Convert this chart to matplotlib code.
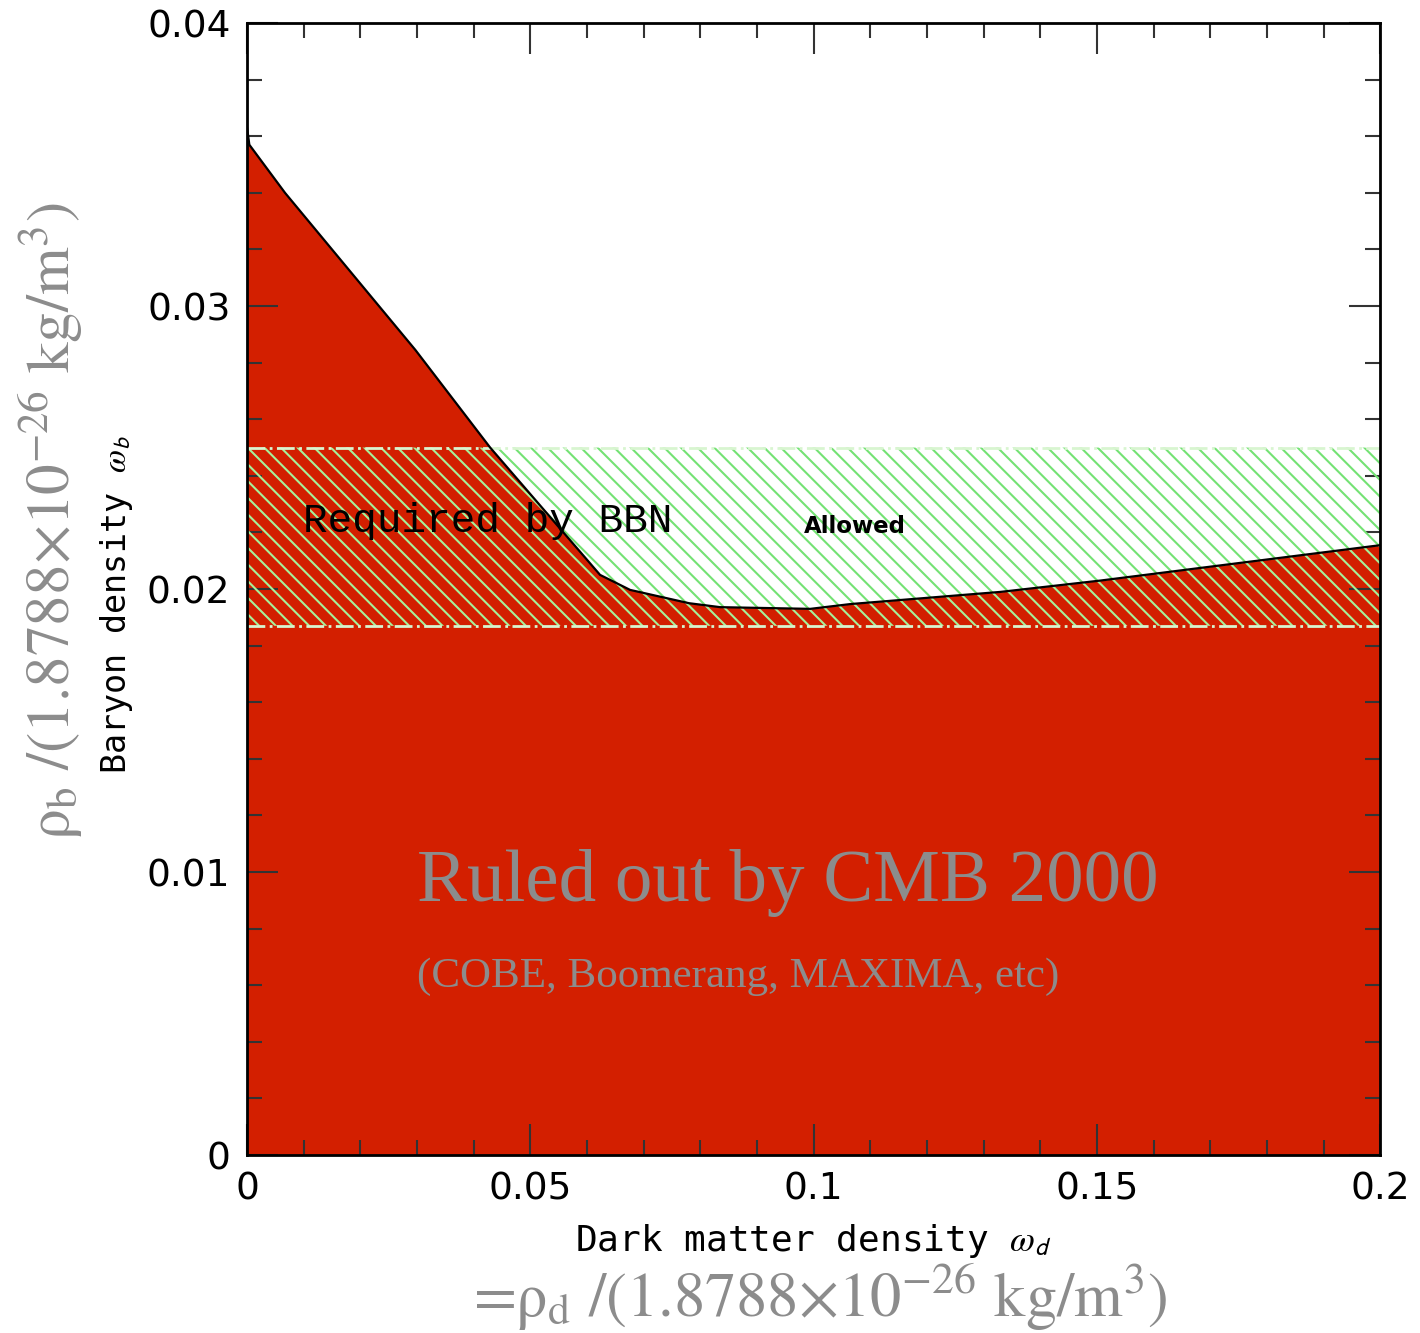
import numpy as np
import matplotlib
matplotlib.use("Agg")
import matplotlib.pyplot as plt
from matplotlib.ticker import MultipleLocator, FixedFormatter, FixedLocator

# lower edge of the allowed region
wd = [0.0, 0.0004, 0.0067, 0.0297, 0.0429, 0.0623, 0.0676, 0.078, 0.0835, 0.0994, 0.1065, 0.133, 0.1506, 0.2]
wb = [0.0363, 0.0357, 0.0340, 0.02845, 0.0250, 0.0205, 0.01997, 0.0195, 0.01936, 0.0193, 0.01947, 0.0199, 0.0203, 0.02155]

# BBN band
bbn_lo = 0.0187
bbn_hi = 0.0250

xticks = [0, 0.05, 0.1, 0.15, 0.2]
xlabels = ["0", "0.05", "0.1", "0.15", "0.2"]
yticks = [0, 0.01, 0.02, 0.03, 0.04]
ylabels = ["0", "0.01", "0.02", "0.03", "0.04"]

red = "#d31f00"
grey = "#8c8c8c"
plt.rcParams["mathtext.fontset"] = "stix"
plt.rcParams["hatch.linewidth"] = 1.5

fig = plt.figure(figsize=(14.2, 13.33), dpi=100)
ax = fig.add_axes([0.174, 0.1335, 0.798, 0.8492])

xx = np.array(wd)
yy = np.array(wb)
ax.fill_between(xx, 0, yy, color=red, lw=0, zorder=1)
ax.plot(xx, yy, color="black", lw=1.6, zorder=4)

# hatch over white part of band
top = np.minimum(yy, bbn_hi)
ax.fill_between(xx, top, bbn_hi, facecolor="none",
                edgecolor="#74e274", hatch="\\\\", lw=0, zorder=2)
# hatch over red part of band
ax.fill_between(xx, bbn_lo, top, facecolor="none",
                edgecolor="#a6f29a", hatch="\\\\", lw=0, zorder=3)
ax.axhline(bbn_hi, color="#d8f5d0", lw=2, ls="-.", zorder=3)
ax.axhline(bbn_lo, color="#d8f5d0", lw=2, ls="-.", zorder=3)

ax.set_xlim(0, 0.2)
ax.set_ylim(0, 0.04)
ax.xaxis.set_major_locator(FixedLocator(xticks))
ax.xaxis.set_major_formatter(FixedFormatter(xlabels))
ax.yaxis.set_major_locator(FixedLocator(yticks))
ax.yaxis.set_major_formatter(FixedFormatter(ylabels))
ax.xaxis.set_minor_locator(MultipleLocator(0.01))
ax.yaxis.set_minor_locator(MultipleLocator(0.002))
ax.tick_params(which="both", direction="in", top=True, right=True, color="#333333", width=1.5)
ax.tick_params(which="major", length=22, labelsize=27, pad=12)
ax.tick_params(which="minor", length=11)
for lab in ax.get_xticklabels() + ax.get_yticklabels():
    lab.set_family("DejaVu Sans")
for s in ax.spines.values():
    s.set_linewidth(2)
    s.set_zorder(5)

ax.set_xlabel(r"Dark matter density $\omega_\mathsf{d}$", family="DejaVu Sans Mono",
              fontsize=26, labelpad=10)
ax.set_ylabel(r"Baryon density $\omega_\mathsf{b}$", family="DejaVu Sans Mono",
              fontsize=24)
ax.yaxis.set_label_coords(-0.099, 0.486)

ax.text(0.0098, 0.0224, "Required by BBN", family="Liberation Mono", fontsize=29.5,
        va="center", zorder=6)
ax.text(0.0982, 0.0222, "Allowed", family="DejaVu Sans", weight="bold", fontsize=16.5,
        va="center", zorder=6)
ax.text(0.030, 0.0096, "Ruled out by CMB 2000", family="Liberation Serif", fontsize=54,
        color=grey, va="center", zorder=6)
ax.text(0.030, 0.0063, "(COBE, Boomerang, MAXIMA, etc)", family="Liberation Serif",
        fontsize=31, color=grey, va="center", zorder=6)

fig.text(0.578, 0.027, r"=$\mathrm{\rho_d}$ /(1.8788×10$^{\mathrm{-26}}$ kg/m$^{\mathrm{3}}$)",
         family="STIXGeneral", fontsize=45, color=grey, ha="center", va="center")
fig.text(0.036, 0.609, r"$\mathrm{\rho_b}$ /(1.8788×10$^{\mathrm{-26}}$ kg/m$^{\mathrm{3}}$)",
         family="STIXGeneral", fontsize=44, color=grey, ha="center", va="center", rotation=90)

fig.savefig("out.png", dpi=100)
